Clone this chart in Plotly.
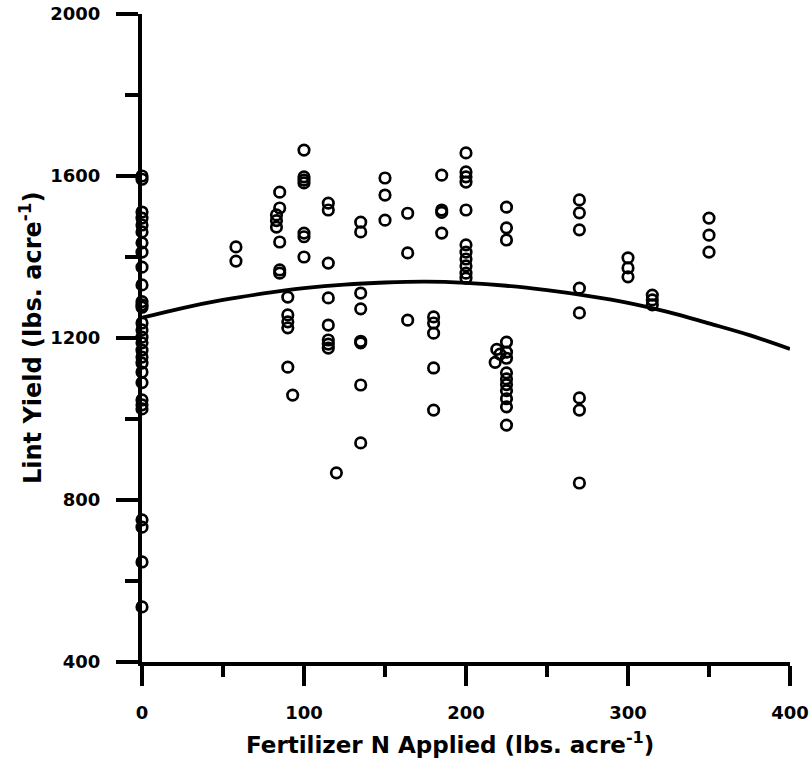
import plotly.graph_objects as go

# Fertilizer N applied (lbs/acre) for each plot
n_applied = (
    [0] * 29
    + [58] * 2
    + [85, 85, 83, 83, 83, 85, 85, 85]
    + [90] * 5
    + [93]
    + [100] * 7
    + [115] * 8
    + [120]
    + [135] * 8
    + [150] * 3
    + [164] * 3
    + [180] * 5
    + [185] * 4
    + [200] * 11
    + [219, 221, 218]
    + [225] * 13
    + [270] * 8
    + [300] * 3
    + [315] * 3
    + [350] * 3
)

# Lint yield (lbs/acre) for each plot
lint_yield = (
    [1600, 1592, 1511, 1496, 1479, 1462, 1435, 1412, 1375, 1331, 1290, 1282,
     1276, 1237, 1220, 1202, 1188, 1170, 1153, 1138, 1116, 1090, 1047, 1035,
     1025, 751, 733, 647, 536]
    + [1425, 1390]
    + [1560, 1521, 1504, 1490, 1474, 1437, 1368, 1360]
    + [1301, 1257, 1240, 1225, 1128]
    + [1059]
    + [1664, 1598, 1590, 1583, 1459, 1450, 1400]
    + [1533, 1516, 1385, 1299, 1232, 1195, 1185, 1175]
    + [867]
    + [1486, 1462, 1311, 1272, 1192, 1188, 1084, 941]
    + [1595, 1553, 1491]
    + [1508, 1410, 1244]
    + [1252, 1237, 1212, 1126, 1022]
    + [1602, 1516, 1510, 1459]
    + [1657, 1610, 1598, 1585, 1516, 1430, 1412, 1395, 1378, 1360, 1348]
    + [1172, 1160, 1140]
    + [1523, 1472, 1442, 1190, 1165, 1150, 1114, 1099, 1085, 1070, 1050, 1030, 985]
    + [1541, 1509, 1467, 1323, 1262, 1052, 1022, 842]
    + [1398, 1373, 1351]
    + [1306, 1282, 1294]
    + [1496, 1454, 1412]
)

# Fitted response curve
fit_n = [0, 25, 50, 75, 100, 125, 150, 175, 200, 225, 250, 275, 300, 325, 350, 375, 400]
fit_yield = [1250, 1274, 1294, 1310, 1323, 1332, 1337, 1339, 1336, 1329, 1318, 1304,
             1287, 1264, 1236, 1207, 1173]

x_ticks = [0, 100, 200, 300, 400]
y_ticks = [400, 800, 1200, 1600, 2000]

x_title = "Fertilizer N Applied (lbs. acre<sup>-1</sup>)"
y_title = "Lint Yield (lbs. acre<sup>-1</sup>)"

tick_font = dict(family="DejaVu Sans", size=18, color="black", weight="bold")
title_font = dict(family="DejaVu Sans", size=23, color="black", weight="bold")
ytitle_font = dict(family="DejaVu Sans", size=24, color="black", weight="bold")

fig = go.Figure()
fig.add_trace(go.Scatter(
    x=n_applied, y=lint_yield, mode="markers",
    marker=dict(symbol="circle-open", size=10.5, color="black", line=dict(width=2.7, color="black")),
    cliponaxis=False, showlegend=False,
))
fig.add_trace(go.Scatter(
    x=fit_n, y=fit_yield, mode="lines", line=dict(color="black", width=3.8, shape="spline"),
    cliponaxis=False, showlegend=False,
))

fig.update_layout(
    width=812, height=761,
    margin=dict(l=142, r=22, t=14, b=99, autoexpand=False),
    plot_bgcolor="white", paper_bgcolor="white",
    xaxis=dict(
        range=[0, 400], tickvals=x_ticks, ticktext=[str(v) for v in x_ticks],
        showgrid=False, zeroline=False, showline=True, linecolor="black", linewidth=4,
        ticks="outside", ticklen=20, tickwidth=4, tickcolor="black",
        tickfont=tick_font, ticklabelstandoff=11, automargin=False,
        minor=dict(tickvals=[50, 150, 250, 350], ticks="outside", ticklen=11, tickwidth=4,
                   tickcolor="black", showgrid=False),
    ),
    yaxis=dict(
        range=[400, 2000], tickvals=y_ticks, ticktext=[str(v) for v in y_ticks],
        showgrid=False, zeroline=False, showline=True, linecolor="black", linewidth=4,
        ticks="outside", ticklen=22, tickwidth=4, tickcolor="black",
        tickfont=tick_font, ticklabelstandoff=12, automargin=False,
        minor=dict(tickvals=[600, 1000, 1400, 1800], ticks="outside", ticklen=13, tickwidth=4,
                   tickcolor="black", showgrid=False),
    ),
    annotations=[
        dict(text=x_title, font=title_font, showarrow=False,
             xref="paper", yref="paper", x=0.476, y=0, xanchor="center", yanchor="middle",
             yshift=-81),
        dict(text=y_title, font=ytitle_font, showarrow=False, textangle=-90,
             xref="paper", yref="paper", x=0, y=0.5, xanchor="center", yanchor="middle",
             xshift=-111),
    ],
)

fig.write_html("out.html")
